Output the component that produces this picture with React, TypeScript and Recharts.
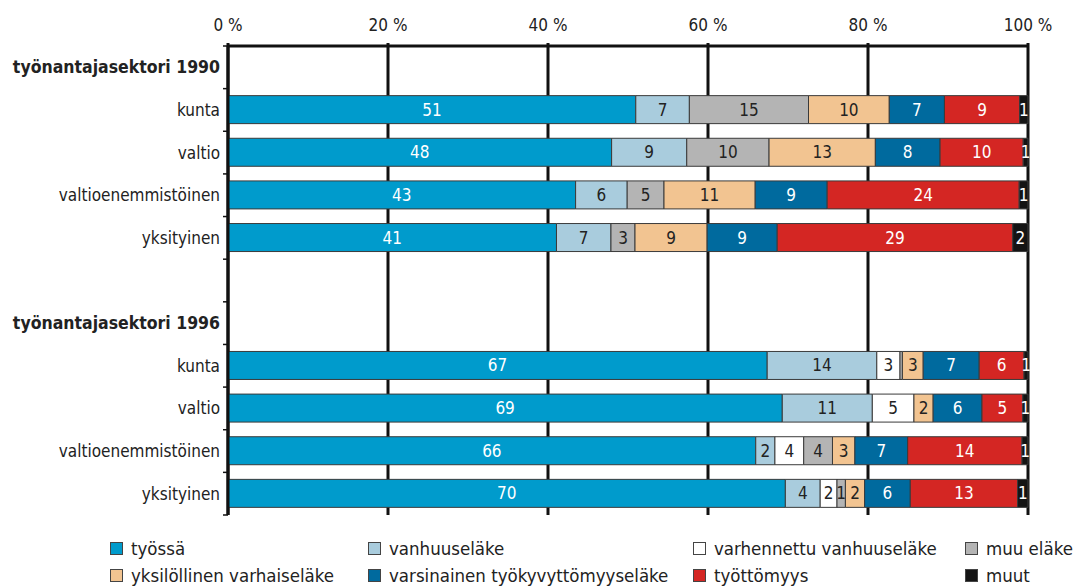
import React from 'react';
import { BarChart, Bar, XAxis, YAxis, CartesianGrid, Legend, LabelList } from 'recharts';

const categories = [
  'työnantajasektori 1990', 'kunta', 'valtio', 'valtioenemmistöinen', 'yksityinen', '',
  'työnantajasektori 1996', 'kunta', 'valtio', 'valtioenemmistöinen', 'yksityinen',
];
const headerRows = ['työnantajasektori 1990', 'työnantajasektori 1996'];

const tyossa = [null, 51.0, 48.0, 43.45, 41.0, null, null, 67.4, 69.25, 66.0, 69.6];
const vanhuuselake = [null, 6.7, 9.4, 6.45, 6.8, null, null, 13.7, 11.25, 2.4, 4.35];
const varhennettu = [null, null, null, null, null, null, null, 2.9, 5.2, 3.6, 2.1];
const muuElake = [null, 14.9, 10.3, 4.6, 3.0, null, null, 0.3, null, 3.6, 1.05];
const yksilollinen = [null, 10.1, 13.3, 11.4, 9.0, null, null, 2.6, 2.4, 2.8, 2.4];
const varsinainen = [null, 6.9, 8.1, 9.0, 8.75, null, null, 7.0, 6.1, 6.6, 5.7];
const tyottomyys = [null, 9.4, 10.4, 24.0, 29.4, null, null, 5.6, 5.1, 14.3, 13.4];
const muut = [null, 1.05, 0.6, 1.1, 1.9, null, null, 0.5, 0.65, 0.75, 1.3];

const xTicks = [0, 0.2, 0.4, 0.6, 0.8, 1];

const series = [
  { key: 'tyossa', name: 'työssä', values: tyossa, color: '#009BCC', text: '#ffffff' },
  { key: 'vanhuuselake', name: 'vanhuuseläke', values: vanhuuselake, color: '#A9CCDD', text: '#222222' },
  { key: 'varhennettu', name: 'varhennettu vanhuuseläke', values: varhennettu, color: '#FFFFFF', text: '#222222' },
  { key: 'muuElake', name: 'muu eläke', values: muuElake, color: '#B4B4B4', text: '#222222' },
  { key: 'yksilollinen', name: 'yksilöllinen varhaiseläke', values: yksilollinen, color: '#F2C491', text: '#222222' },
  { key: 'varsinainen', name: 'varsinainen työkyvyttömyyseläke', values: varsinainen, color: '#006A9E', text: '#ffffff' },
  { key: 'tyottomyys', name: 'työttömyys', values: tyottomyys, color: '#D42623', text: '#ffffff' },
  { key: 'muut', name: 'muut', values: muut, color: '#141414', text: '#ffffff' },
];

const legendOrder = [
  ['tyossa', 'vanhuuselake', 'varhennettu', 'muuElake'],
  ['yksilollinen', 'varsinainen', 'tyottomyys', 'muut'],
];

const data = categories.map((name, i) => {
  const row: any = { name };
  series.forEach((s) => {
    if (s.values[i] != null) row[s.key] = s.values[i];
  });
  return row;
});

const FONT = "'Liberation Sans Narrow', 'Arial Narrow', 'DejaVu Sans Condensed', sans-serif";
const W = 1078;
const H = 586;
const M = { top: 0, right: 50, bottom: 0, left: 0 };
const X_AXIS_H = 46;
const Y_AXIS_W = 228;
const LEGEND_H = 71;
const BAND = (H - M.top - X_AXIS_H - LEGEND_H - M.bottom) / categories.length;

const YTick = (props: any) => {
  const { x, y, payload, index } = props;
  const label = payload.value as string;
  const isHeader = headerRows.includes(label);
  const axisX = x + 8;
  return (
    <g>
      <line x1={axisX - 5} x2={axisX} y1={y - BAND / 2} y2={y - BAND / 2} stroke="#111" strokeWidth={1.5} />
      {index === categories.length - 1 && (
        <line x1={axisX - 5} x2={axisX} y1={y + BAND / 2} y2={y + BAND / 2} stroke="#111" strokeWidth={1.5} />
      )}
      <text
        x={x}
        y={y}
        textAnchor="end"
        dominantBaseline="central"
        fontFamily={FONT}
        fontSize={isHeader ? 17.5 : 17}
        fontWeight={isHeader ? 'bold' : 'normal'}
        fill="#222"
      >
        {label}
      </text>
    </g>
  );
};

// Recharts only renders rects (and so labels) for rows that have a value,
// so map the label index back to the data row.
const makeLabel = (s: any) => {
  const rows = s.values.map((v: any, i: number) => (v != null ? i : -1)).filter((i: number) => i >= 0);
  return (p: any) => {
    const { x, y, width, height, index } = p;
    const v = s.values[rows[index]];
    if (v == null || v < 0.45) return null;
    return (
      <text
        x={x + width / 2}
        y={y + height / 2}
        textAnchor="middle"
        dominantBaseline="central"
        fontFamily={FONT}
        fontSize={17}
        fill={s.text}
      >
        {Math.round(v)}
      </text>
    );
  };
};

const LegendContent = () => {
  const colX = [110, 368, 693, 965];
  return (
    <div style={{ position: 'relative', height: LEGEND_H, width: W - M.right, fontFamily: FONT }}>
      {legendOrder.map((row, r) =>
        row.map((key, c) => {
          const s = series.find((q) => q.key === key)!;
          return (
            <div
              key={key}
              style={{
                position: 'absolute',
                left: colX[c],
                top: 22 + r * 27,
                height: 22,
                display: 'flex',
                alignItems: 'center',
                whiteSpace: 'nowrap',
              }}
            >
              <span
                style={{
                  display: 'inline-block',
                  width: 11,
                  height: 11,
                  background: s.color,
                  border: '1px solid #444',
                  marginRight: 8,
                }}
              />
              <span style={{ fontSize: 18.5, color: '#222' }}>{s.name}</span>
            </div>
          );
        })
      )}
    </div>
  );
};

export default function App() {
  return (
    <div style={{ position: 'absolute', left: 0, top: 0, width: W, height: H, background: '#fff', fontFamily: FONT }}>
      <BarChart
        width={W}
        height={H}
        data={data}
        layout="vertical"
        stackOffset="expand"
        margin={M}
        barCategoryGap={0}
      >
        <CartesianGrid horizontal={false} vertical={true} stroke="#111" strokeWidth={3} />
        <XAxis
          type="number"
          orientation="top"
          domain={[0, 1]}
          ticks={xTicks}
          height={X_AXIS_H}
          axisLine={{ stroke: '#111', strokeWidth: 3 }}
          tickLine={{ stroke: '#111', strokeWidth: 3 }}
          tickSize={3}
          tickMargin={12}
          tickFormatter={(v: number) => `${Math.round(v * 100)} %`}
          tick={{ fontFamily: FONT, fontSize: 17, fill: '#222' }}
          interval={0}
        />
        <YAxis
          type="category"
          dataKey="name"
          width={Y_AXIS_W}
          axisLine={{ stroke: '#111', strokeWidth: 3 }}
          tickLine={false}
          tickSize={0}
          tickMargin={8}
          tick={<YTick />}
          interval={0}
        />
        <Legend
          verticalAlign="bottom"
          align="left"
          content={<LegendContent />}
          wrapperStyle={{ left: 0, bottom: 0, height: LEGEND_H }}
        />
        {series.map((s) => (
          <Bar
            key={s.key}
            dataKey={s.key}
            name={s.name}
            stackId="a"
            fill={s.color}
            stroke="#3a3a3a"
            strokeWidth={1}
            barSize={28}
            isAnimationActive={false}
          >
            <LabelList dataKey={s.key} content={makeLabel(s)} />
          </Bar>
        ))}
      </BarChart>
    </div>
  );
}
